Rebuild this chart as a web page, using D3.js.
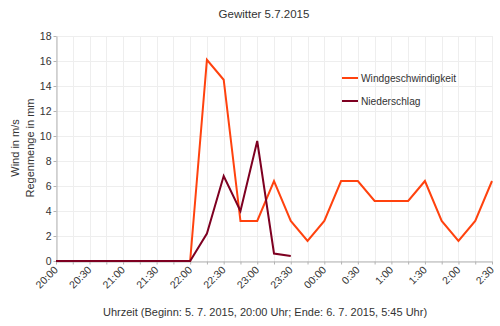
<!DOCTYPE html>
<html>
<head>
<meta charset="utf-8">
<script src="https://cdn.jsdelivr.net/npm/d3@7"></script>
<style>
  body { margin: 0; background: #fff; }
  text { font-family: "Liberation Sans", Arial, sans-serif; fill: #333; }
</style>
</head>
<body>
<div id="chart"></div>
<script>
// quarter-hour time slots, 20:00 to 2:30
const times = ["20:00","20:15","20:30","20:45","21:00","21:15","21:30","21:45",
  "22:00","22:15","22:30","22:45","23:00","23:15","23:30","23:45",
  "00:00","00:15","0:30","0:45","1:00","1:15","1:30","1:45","2:00","2:15","2:30"];
const tickLabels = ["20:00","20:30","21:00","21:30","22:00","22:30","23:00","23:30",
  "00:00","0:30","1:00","1:30","2:00","2:30"];
const wind = [0,0,0,0,0,0,0,0,0,16.1,14.5,3.2,3.2,6.4,3.2,1.6,3.2,6.4,6.4,4.8,4.8,4.8,6.4,3.2,1.6,3.2,6.4];
const rain = [0,0,0,0,0,0,0,0,0,2.2,6.8,4.0,9.6,0.6,0.4];
const yTicks = [0,2,4,6,8,10,12,14,16,18];

const W = 500, H = 326;
const margin = {left: 56, right: 8, top: 36, bottom: 65};

const svg = d3.select("#chart").append("svg")
    .attr("width", W)
    .attr("height", H);

const x = d3.scalePoint(times, [margin.left, 492]);
const y = d3.scaleLinear([0, 18], [261, margin.top]);

// grid
svg.append("g")
    .attr("stroke", "#eeeeee")
    .attr("stroke-width", 1)
    .selectAll("line.h")
    .data(yTicks)
    .join("line")
    .attr("x1", margin.left).attr("x2", 492)
    .attr("y1", d => Math.round(y(d)) + 0.5).attr("y2", d => Math.round(y(d)) + 0.5);

svg.append("g")
    .attr("stroke", "#eeeeee")
    .selectAll("line")
    .data(times)
    .join("line")
    .attr("x1", d => Math.round(x(d)) + 0.5).attr("x2", d => Math.round(x(d)) + 0.5)
    .attr("y1", margin.top).attr("y2", 261);

// axes
const yAxis = svg.append("g")
    .attr("transform", `translate(${margin.left + 0.5},0)`)
    .call(d3.axisLeft(y).tickValues(yTicks).tickSize(3).tickPadding(2).tickSizeOuter(0));

const xAxis = svg.append("g")
    .attr("transform", `translate(0,${261.5})`)
    .call(d3.axisBottom(x).tickSize(3).tickSizeOuter(0).tickFormat(""));

[yAxis, xAxis].forEach(a => {
  a.select(".domain").attr("stroke", "#b3b3b3");
  a.selectAll(".tick line").attr("stroke", "#b3b3b3");
  a.selectAll("text").attr("fill", "#333").style("font-size", "10.5px")
    .style("font-family", '"Liberation Sans", Arial, sans-serif');
});

// rotated time labels every half hour
svg.append("g")
    .selectAll("text")
    .data(tickLabels)
    .join("text")
    .attr("transform", d => `translate(${x(d)},${268}) rotate(-45)`)
    .attr("text-anchor", "end")
    .attr("dy", "0.35em")
    .style("font-size", "10.5px")
    .text(d => d);

// lines
const line = d3.line()
    .x((d, i) => x(times[i]))
    .y(d => y(d));

svg.append("path")
    .datum(wind)
    .attr("fill", "none")
    .attr("stroke", "#ff420e")
    .attr("stroke-width", 2)
    .attr("stroke-linejoin", "miter")
    .attr("d", line);

svg.append("path")
    .datum(rain)
    .attr("fill", "none")
    .attr("stroke", "#7e0021")
    .attr("stroke-width", 2)
    .attr("d", line);

// title
svg.append("text")
    .attr("x", 264).attr("y", 18)
    .attr("text-anchor", "middle")
    .style("font-size", "11.5px")
    .text("Gewitter 5.7.2015");

// y title (two lines)
svg.append("text")
    .attr("transform", "translate(19,148) rotate(-90)")
    .attr("text-anchor", "middle")
    .style("font-size", "11px")
    .text("Wind in m/s");
svg.append("text")
    .attr("transform", "translate(34,148) rotate(-90)")
    .attr("text-anchor", "middle")
    .style("font-size", "11px")
    .text("Regenmenge in mm");

// x title
svg.append("text")
    .attr("x", 265).attr("y", 316)
    .attr("text-anchor", "middle")
    .style("font-size", "11px")
    .text("Uhrzeit (Beginn: 5. 7. 2015, 20:00 Uhr; Ende: 6. 7. 2015, 5:45 Uhr)");

// legend
const series = [{name: "Windgeschwindigkeit", color: "#ff420e"}, {name: "Niederschlag", color: "#7e0021"}];
const lg = svg.append("g")
    .selectAll("g")
    .data(series)
    .join("g")
    .attr("transform", (d, i) => `translate(342,${78 + i * 23})`);
lg.append("line")
    .attr("x1", 0).attr("x2", 16)
    .attr("stroke", d => d.color)
    .attr("stroke-width", 2);
lg.append("text")
    .attr("x", 19).attr("dy", "0.35em")
    .style("font-size", "10.2px")
    .text(d => d.name);
</script>
</body>
</html>
